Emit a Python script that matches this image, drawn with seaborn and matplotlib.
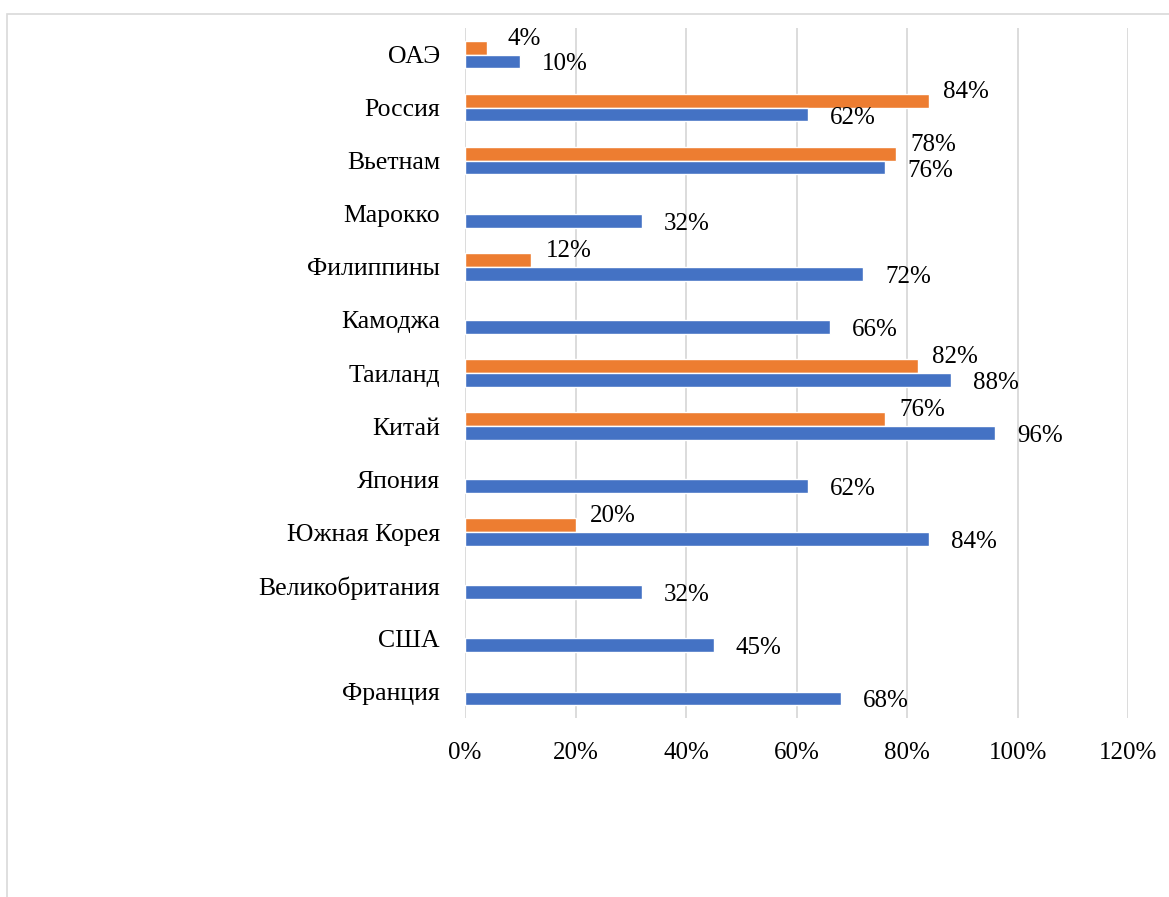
import numpy as np
import pandas as pd
import matplotlib
matplotlib.use('Agg')
import matplotlib.pyplot as plt
from matplotlib.patches import Rectangle
import seaborn as sns

# countries from top to bottom
countries = ['ОАЭ', 'Россия', 'Вьетнам', 'Марокко', 'Филиппины', 'Камоджа', 'Таиланд',
             'Китай', 'Япония', 'Южная Корея', 'Великобритания', 'США', 'Франция']
blue_vals = [10, 62, 76, 32, 72, 66, 88, 96, 62, 84, 32, 45, 68]
orange_vals = [4, 84, 78, np.nan, 12, np.nan, 82, 76, np.nan, 20, np.nan, np.nan, np.nan]
x_ticks = [0, 20, 40, 60, 80, 100, 120]

BLUE = '#4472C4'
ORANGE = '#ED7D31'

df = pd.DataFrame({
    'country': countries * 2,
    'value': orange_vals + blue_vals,
    'series': ['Серия 2'] * len(countries) + ['Серия 1'] * len(countries),
}).dropna()

sns.set_theme(style='white')
plt.rcParams['font.family'] = ['Liberation Serif', 'DejaVu Serif']

fig = plt.figure(figsize=(11.69, 8.97), dpi=100)
ax = fig.add_axes([0.3978, 0.1995, 0.5672, 0.7693])

sns.barplot(data=df, y='country', x='value', hue='series', order=countries,
            hue_order=['Серия 2', 'Серия 1'], palette=[ORANGE, BLUE],
            orient='h', width=0.52, gap=0, errorbar=None, legend=False, ax=ax,
            saturation=1)

# value labels (offsets roughly as in the original)
for cont, dx, dy in zip(ax.containers, [37, 45], [9, -3]):
    for p in cont:
        w = p.get_width()
        if np.isnan(w):
            continue
        yc = p.get_y() + p.get_height() / 2
        ax.annotate('%d%%' % round(w), (w, yc), xytext=(dx, dy), textcoords='offset pixels',
                    ha='center', va='center', fontsize=18, color='black')

ax.set_xlim(0, 120)
ax.set_ylim(12.5, -0.5)
ax.set_xticks(x_ticks)
ax.set_xticklabels(['%d%%' % t for t in x_ticks])
ax.xaxis.grid(True, color='#D9D9D9', lw=1.3)
ax.set_axisbelow(True)
for s in ax.spines.values():
    s.set_visible(False)
ax.tick_params(axis='both', length=0, colors='black')
ax.tick_params(axis='y', pad=18, labelsize=18.5)
ax.tick_params(axis='x', pad=17, labelsize=18)
ax.set_xlabel('')
ax.set_ylabel('')

# outer chart frame
fig.patches.append(Rectangle((0.006, -0.1), 1.2, 1.084, transform=fig.transFigure,
                             fill=False, edgecolor='#D9D9D9', lw=1.2))

plt.savefig('out.png', dpi=100)
